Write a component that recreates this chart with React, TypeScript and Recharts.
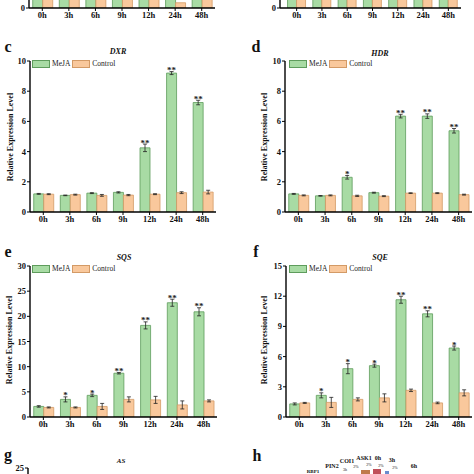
import React from 'react';
import { BarChart, Bar, XAxis, YAxis, ErrorBar, LabelList } from 'recharts';

const hours = ['0h', '3h', '6h', '9h', '12h', '24h', '48h'];

// a / b (only the bottom edge is visible)
const aMeja = [1.2, 1.5, 2.0, 2.6, 4.0, 5.0, 3.5];
const aControl = [1.0, 1.1, 1.0, 1.2, 1.1, 0.35, 1.2];
const bMeja = [1.3, 1.4, 1.8, 2.2, 3.0, 3.2, 2.5];
const bControl = [0.9, 1.0, 1.1, 1.0, 1.1, 1.0, 0.9];

// c DXR
const dxrMeja = [1.2, 1.1, 1.25, 1.3, 4.25, 9.2, 7.25];
const dxrMejaErr = [0.03, 0.02, 0.03, 0.04, 0.25, 0.1, 0.15];
const dxrControl = [1.18, 1.15, 1.1, 1.12, 1.18, 1.28, 1.32];
const dxrControlErr = [0.03, 0.03, 0.06, 0.04, 0.03, 0.06, 0.12];
const dxrSig = ['', '', '', '', '**', '**', '**'];

// d HDR
const hdrMeja = [1.2, 1.07, 2.3, 1.28, 6.35, 6.35, 5.38];
const hdrMejaErr = [0.03, 0.02, 0.12, 0.03, 0.12, 0.15, 0.15];
const hdrControl = [1.1, 1.1, 1.07, 1.05, 1.25, 1.25, 1.15];
const hdrControlErr = [0.03, 0.03, 0.04, 0.03, 0.02, 0.03, 0.03];
const hdrSig = ['', '', '*', '', '**', '**', '**'];

// e SQS
const sqsMeja = [2.1, 3.5, 4.3, 8.7, 18.2, 22.7, 20.9];
const sqsMejaErr = [0.15, 0.5, 0.25, 0.15, 0.7, 0.7, 0.8];
const sqsControl = [1.9, 1.9, 2.1, 3.5, 3.4, 2.4, 3.2];
const sqsControlErr = [0.1, 0.1, 0.6, 0.5, 0.7, 0.8, 0.2];
const sqsSig = ['', '*', '*', '**', '**', '**', '**'];

// f SQE
const sqeMeja = [1.3, 2.15, 4.8, 5.1, 11.65, 10.25, 6.85];
const sqeMejaErr = [0.1, 0.25, 0.5, 0.15, 0.35, 0.3, 0.2];
const sqeControl = [1.4, 1.45, 1.75, 1.9, 2.65, 1.4, 2.4];
const sqeControlErr = [0.05, 0.5, 0.15, 0.4, 0.12, 0.08, 0.3];
const sqeSig = ['', '*', '*', '*', '**', '**', '*'];

const FONT = '"Liberation Serif", "Times New Roman", serif';
const GREEN = '#a8dba4';
const GREEN_EDGE = '#5e9c5c';
const ORANGE = '#f9c89c';
const ORANGE_EDGE = '#d39a66';

const tickStyle = { fontFamily: FONT, fontWeight: 'bold', fontSize: 8.5, fill: '#111' };

const starContent = (sig: string[], err: number[]) => (props: any) => {
  const { x, y, width, height, value, index } = props;
  const s = sig[index];
  if (!s) return null;
  const per = Number(height) / Number(value);
  const top = Number(y) - err[index] * per;
  return (
    <text x={Number(x) + Number(width) / 2} y={top + 1.5} textAnchor="middle"
      fontFamily={FONT} fontWeight="bold" fontSize={9} fill="#222">{s}</text>
  );
};

interface PanelProps {
  left: number;
  top: number;
  width: number;
  height: number;
  plotTop: number;
  yWidth: number;
  right: number;
  domain: [number, number];
  ticks: number[];
  meja?: number[];
  mejaErr?: number[];
  control?: number[];
  controlErr?: number[];
  sig?: string[];
  catPadLeft?: number;
  hideX?: boolean;
}

const Panel = (p: PanelProps) => {
  const rows = hours.map((h, i) => ({
    hour: h,
    meja: p.meja ? p.meja[i] : undefined,
    mejaErr: p.mejaErr ? p.mejaErr[i] : 0,
    control: p.control ? p.control[i] : undefined,
    controlErr: p.controlErr ? p.controlErr[i] : 0,
  }));
  return (
    <div style={{ position: 'absolute', left: p.left, top: p.top }}>
      <BarChart width={p.width} height={p.height} data={rows}
        margin={{ top: p.plotTop, right: p.right, bottom: 0, left: 0 }}
        barCategoryGap="14%" barGap={0}>
        <XAxis dataKey="hour" height={18} tick={p.hideX ? false : tickStyle} tickSize={3} tickMargin={1}
          axisLine={{ stroke: '#000', strokeWidth: 1.4 }} tickLine={{ stroke: '#000' }}
          interval={0} padding={{ left: p.catPadLeft || 0, right: 0 }} />
        <YAxis width={p.yWidth} domain={p.domain} ticks={p.ticks} tick={tickStyle} interval={0}
          tickSize={3} tickMargin={1} allowDataOverflow
          axisLine={{ stroke: '#000', strokeWidth: 1.4 }} tickLine={{ stroke: '#000' }} />
        {p.meja && (
          <Bar dataKey="meja" fill={GREEN} stroke={GREEN_EDGE} strokeWidth={0.8} isAnimationActive={false}>
            {p.mejaErr && <ErrorBar dataKey="mejaErr" width={2} stroke="#222" strokeWidth={0.8} direction="y" />}
            {p.sig && p.mejaErr && <LabelList dataKey="meja" content={starContent(p.sig, p.mejaErr)} />}
          </Bar>
        )}
        {p.control && (
          <Bar dataKey="control" fill={ORANGE} stroke={ORANGE_EDGE} strokeWidth={0.8} isAnimationActive={false}>
            {p.controlErr && <ErrorBar dataKey="controlErr" width={2} stroke="#222" strokeWidth={0.8} direction="y" />}
          </Bar>
        )}
      </BarChart>
    </div>
  );
};

const Legend = ({ left, top }: { left: number; top: number }) => (
  <div style={{ position: 'absolute', left, top, display: 'flex', alignItems: 'center',
    fontFamily: FONT, fontSize: 7.5, color: '#222', lineHeight: '8px' }}>
    <span style={{ width: 16, height: 6, background: GREEN, border: `0.8px solid ${GREEN_EDGE}`, display: 'inline-block' }} />
    <span style={{ marginLeft: 2, marginRight: 2 }}>MeJA</span>
    <span style={{ width: 16, height: 6, background: ORANGE, border: `0.8px solid ${ORANGE_EDGE}`, display: 'inline-block' }} />
    <span style={{ marginLeft: 2 }}>Control</span>
  </div>
);

const Text = ({ x, y, children, size = 8, italic = false, weight = 'bold' }: any) => (
  <div style={{ position: 'absolute', left: x, top: y, transform: 'translate(-50%,-50%)',
    fontFamily: FONT, fontSize: size, fontWeight: weight, fontStyle: italic ? 'italic' : 'normal',
    whiteSpace: 'nowrap', color: '#111', lineHeight: 1 }}>{children}</div>
);

const YLabel = ({ x, y }: { x: number; y: number }) => (
  <div style={{ position: 'absolute', left: x, top: y, transform: 'translate(-50%,-50%) rotate(-90deg)',
    fontFamily: FONT, fontSize: 8, fontWeight: 'bold', whiteSpace: 'nowrap', color: '#111', lineHeight: 1 }}>
    Relative Expression Level
  </div>
);

export default function App() {
  return (
    <div style={{ position: 'fixed', left: 0, top: 0, width: 474, height: 474, overflow: 'hidden', background: '#fff' }}>
      {/* a, b: bottom edges only */}
      <Panel left={0} top={-144} width={230} height={170} plotTop={2} yWidth={29} right={15}
        domain={[0, 10]} ticks={[0]} meja={aMeja} control={aControl} />
      <Panel left={250} top={-144} width={230} height={170} plotTop={2} yWidth={30} right={19}
        domain={[0, 10]} ticks={[0]} meja={bMeja} control={bControl} catPadLeft={4} />

      {/* c DXR */}
      <Panel left={0} top={40} width={230} height={190} plotTop={21} yWidth={30} right={14}
        domain={[0, 10]} ticks={[0, 2, 4, 6, 8, 10]} meja={dxrMeja} mejaErr={dxrMejaErr}
        control={dxrControl} controlErr={dxrControlErr} sig={dxrSig} />
      {/* d HDR */}
      <Panel left={250} top={40} width={230} height={190} plotTop={21} yWidth={35} right={8}
        domain={[0, 10]} ticks={[0, 2, 4, 6, 8, 10]} meja={hdrMeja} mejaErr={hdrMejaErr}
        control={hdrControl} controlErr={hdrControlErr} sig={hdrSig} />
      {/* e SQS */}
      <Panel left={0} top={245} width={230} height={190} plotTop={21} yWidth={30} right={13}
        domain={[0, 30]} ticks={[0, 5, 10, 15, 20, 25, 30]} meja={sqsMeja} mejaErr={sqsMejaErr}
        control={sqsControl} controlErr={sqsControlErr} sig={sqsSig} />
      {/* f SQE */}
      <Panel left={250} top={245} width={230} height={190} plotTop={21} yWidth={36} right={8}
        domain={[0, 15]} ticks={[0, 3, 6, 9, 12, 15]} meja={sqeMeja} mejaErr={sqeMejaErr}
        control={sqeControl} controlErr={sqeControlErr} sig={sqeSig} />
      {/* g AS: only the top of the axis */}
      <Panel left={0} top={462} width={230} height={190} plotTop={6} yWidth={28} right={13}
        domain={[0, 25]} ticks={[25]} hideX />

      <Legend left={32} top={60} />
      <Legend left={289} top={60} />
      <Legend left={32} top={265} />
      <Legend left={289} top={265} />

      <YLabel x={11} y={137} />
      <YLabel x={265} y={137} />
      <YLabel x={10} y={340} />
      <YLabel x={265} y={340} />

      <Text x={118} y={52} italic>DXR</Text>
      <Text x={380} y={54} italic>HDR</Text>
      <Text x={124} y={258} italic>SQS</Text>
      <Text x={380} y={258} italic>SQE</Text>
      <Text x={121} y={461} italic size={7}>AS</Text>

      <Text x={8} y={47} size={16}>c</Text>
      <Text x={256} y={47} size={16}>d</Text>
      <Text x={8} y={252} size={16}>e</Text>
      <Text x={256} y={252} size={16}>f</Text>
      <Text x={8} y={455} size={16}>g</Text>
      <Text x={257} y={456} size={16}>h</Text>

      {/* h network (top edge only) */}
      <Text x={332} y={466} size={6}>PIN2</Text>
      <Text x={347} y={461} size={6}>COI1</Text>
      <Text x={364} y={458} size={6}>ASK1</Text>
      <Text x={378} y={458} size={6}>0h</Text>
      <Text x={392} y={460} size={6}>3h</Text>
      <Text x={414} y={466} size={6}>6h</Text>
      <Text x={313} y={471} size={5}>RBP1</Text>
      <Text x={345} y={470} size={4} weight="normal">3h</Text>
      <Text x={356} y={467} size={4} weight="normal">2%</Text>
      <Text x={369} y={465} size={4} weight="normal">2%</Text>
      <Text x={381} y={466} size={4} weight="normal">2%</Text>
      <Text x={395} y={468} size={4} weight="normal">2%</Text>
      <div style={{ position: 'absolute', left: 361, top: 470, width: 9, height: 6, background: '#c07a4a' }} />
      <div style={{ position: 'absolute', left: 373, top: 469, width: 8, height: 6, background: '#c0505a' }} />
      <div style={{ position: 'absolute', left: 385, top: 471, width: 4, height: 5, background: '#6a8ccf' }} />
    </div>
  );
}
